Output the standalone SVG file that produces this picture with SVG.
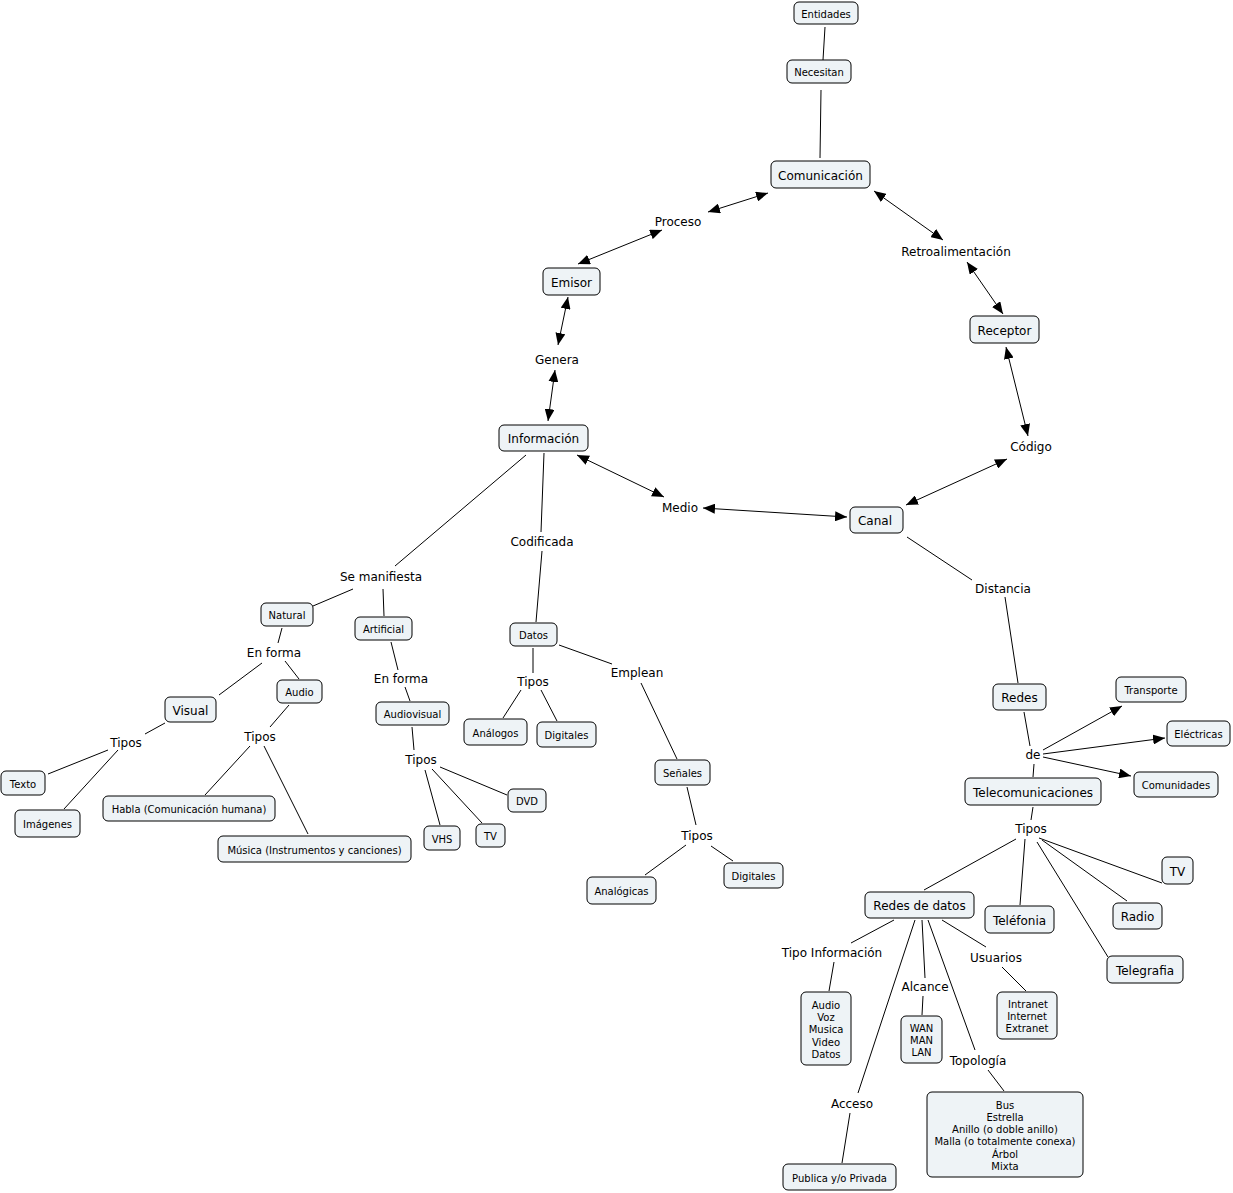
<svg xmlns="http://www.w3.org/2000/svg" width="1233" height="1193" viewBox="0 0 1233 1193">
<style>
.n rect{fill:#eef3f6;stroke:#000;stroke-width:1}
text{font-family:"DejaVu Sans",Verdana,sans-serif;fill:#000;text-anchor:middle;dominant-baseline:central;transform:translateY(1px)}
.s{font-size:10px}
.m{font-size:12px}
.l{font-size:12px}
#conn line{stroke:#000;stroke-width:1}
</style>
<defs>
<marker id="ah" viewBox="0 0 12 10" refX="12" refY="5" markerWidth="12" markerHeight="10" markerUnits="userSpaceOnUse" orient="auto-start-reverse">
<path d="M0,0 L12,5 L0,10 z" fill="#000"/>
</marker>
</defs>
<rect width="1233" height="1193" fill="#fff"/>
<g id="conn">
<line x1="825" y1="27" x2="823" y2="60"/>
<line x1="821" y1="90" x2="820" y2="158"/>
<line x1="708" y1="212" x2="768" y2="193" marker-start="url(#ah)" marker-end="url(#ah)"/>
<line x1="662" y1="230" x2="578" y2="264" marker-start="url(#ah)" marker-end="url(#ah)"/>
<line x1="874" y1="191" x2="943" y2="240" marker-start="url(#ah)" marker-end="url(#ah)"/>
<line x1="967" y1="262" x2="1003" y2="314" marker-start="url(#ah)" marker-end="url(#ah)"/>
<line x1="1006" y1="347" x2="1028" y2="436" marker-start="url(#ah)" marker-end="url(#ah)"/>
<line x1="1007" y1="459" x2="906" y2="505" marker-start="url(#ah)" marker-end="url(#ah)"/>
<line x1="847" y1="517" x2="703" y2="508" marker-start="url(#ah)" marker-end="url(#ah)"/>
<line x1="664" y1="497" x2="577" y2="455" marker-start="url(#ah)" marker-end="url(#ah)"/>
<line x1="568" y1="297" x2="558" y2="345" marker-start="url(#ah)" marker-end="url(#ah)"/>
<line x1="555" y1="370" x2="548" y2="421" marker-start="url(#ah)" marker-end="url(#ah)"/>
<line x1="1043" y1="750" x2="1122" y2="706" marker-end="url(#ah)"/>
<line x1="1043" y1="754" x2="1165" y2="738" marker-end="url(#ah)"/>
<line x1="1043" y1="757" x2="1131" y2="776" marker-end="url(#ah)"/>
<line x1="526" y1="455" x2="395" y2="566"/>
<line x1="544" y1="453" x2="541" y2="532"/>
<line x1="542" y1="551" x2="536" y2="622"/>
<line x1="353" y1="589" x2="313" y2="606"/>
<line x1="383" y1="589" x2="384" y2="616"/>
<line x1="282" y1="628" x2="278" y2="643"/>
<line x1="262" y1="663" x2="219" y2="695"/>
<line x1="285" y1="661" x2="299" y2="679"/>
<line x1="391" y1="642" x2="398" y2="670"/>
<line x1="405" y1="687" x2="410" y2="701"/>
<line x1="533" y1="648" x2="533" y2="673"/>
<line x1="521" y1="690" x2="503" y2="718"/>
<line x1="541" y1="690" x2="557" y2="721"/>
<line x1="559" y1="645" x2="612" y2="664"/>
<line x1="641" y1="683" x2="677" y2="759"/>
<line x1="165" y1="723" x2="145" y2="734"/>
<line x1="108" y1="750" x2="48" y2="774"/>
<line x1="118" y1="750" x2="64" y2="809"/>
<line x1="289" y1="705" x2="270" y2="727"/>
<line x1="250" y1="746" x2="205" y2="795"/>
<line x1="264" y1="746" x2="308" y2="834"/>
<line x1="412" y1="727" x2="414" y2="750"/>
<line x1="440" y1="767" x2="507" y2="795"/>
<line x1="425" y1="770" x2="440" y2="825"/>
<line x1="432" y1="769" x2="482" y2="823"/>
<line x1="687" y1="787" x2="696" y2="825"/>
<line x1="686" y1="845" x2="645" y2="875"/>
<line x1="711" y1="846" x2="733" y2="861"/>
<line x1="907" y1="537" x2="972" y2="580"/>
<line x1="1005" y1="597" x2="1018" y2="683"/>
<line x1="1024" y1="712" x2="1030" y2="746"/>
<line x1="1034" y1="764" x2="1033" y2="777"/>
<line x1="1033" y1="807" x2="1031" y2="820"/>
<line x1="1016" y1="839" x2="924" y2="890"/>
<line x1="1025" y1="839" x2="1020" y2="905"/>
<line x1="1039" y1="838" x2="1162" y2="883"/>
<line x1="1042" y1="840" x2="1127" y2="901"/>
<line x1="1037" y1="842" x2="1108" y2="957"/>
<line x1="894" y1="920" x2="851" y2="943"/>
<line x1="834" y1="962" x2="829" y2="991"/>
<line x1="942" y1="920" x2="986" y2="947"/>
<line x1="1002" y1="967" x2="1026" y2="991"/>
<line x1="922" y1="920" x2="925" y2="978"/>
<line x1="923" y1="996" x2="922" y2="1015"/>
<line x1="928" y1="920" x2="975" y2="1050"/>
<line x1="988" y1="1070" x2="1004" y2="1091"/>
<line x1="915" y1="920" x2="858" y2="1093"/>
<line x1="850" y1="1113" x2="842" y2="1163"/>
</g>

<g id="entidades" class="n"><rect x="794" y="2" width="64" height="22" rx="5"/><text class="s" x="826" y="13">Entidades</text></g>
<g id="necesitan" class="n"><rect x="787" y="60" width="64" height="23" rx="5"/><text class="s" x="819" y="71.5">Necesitan</text></g>
<g id="comunicacion" class="n"><rect x="771" y="161" width="99" height="27" rx="5"/><text class="m" x="820.5" y="174.5">Comunicación</text></g>
<g id="proceso"><text class="l" x="678" y="221">Proceso</text></g>
<g id="retro"><text class="l" x="956" y="251">Retroalimentación</text></g>
<g id="emisor" class="n"><rect x="543" y="268" width="57" height="27" rx="5"/><text class="m" x="571.5" y="281.5">Emisor</text></g>
<g id="receptor" class="n"><rect x="970" y="316" width="69" height="27" rx="5"/><text class="m" x="1004.5" y="329.5">Receptor</text></g>
<g id="genera"><text class="l" x="557" y="359">Genera</text></g>
<g id="informacion" class="n"><rect x="499" y="425" width="89" height="26" rx="5"/><text class="m" x="543.5" y="438">Información</text></g>
<g id="codigo"><text class="l" x="1031" y="446">Código</text></g>
<g id="medio"><text class="l" x="680" y="507">Medio</text></g>
<g id="canal" class="n"><rect x="850" y="507" width="53" height="26" rx="5"/><text class="m" x="875" y="520">Canal</text></g>
<g id="codificada"><text class="l" x="542" y="541">Codificada</text></g>
<g id="semanifiesta"><text class="l" x="381" y="576">Se manifiesta</text></g>
<g id="distancia"><text class="l" x="1003" y="588">Distancia</text></g>
<g id="natural" class="n"><rect x="261" y="603" width="52" height="23" rx="5"/><text class="s" x="287" y="614.5">Natural</text></g>
<g id="artificial" class="n"><rect x="355" y="617" width="57" height="23" rx="5"/><text class="s" x="383.5" y="628.5">Artificial</text></g>
<g id="datos" class="n"><rect x="510" y="623" width="47" height="23" rx="5"/><text class="s" x="533.5" y="634.5">Datos</text></g>
<g id="enforma1"><text class="l" x="274" y="652">En forma</text></g>
<g id="emplean"><text class="l" x="637" y="672">Emplean</text></g>
<g id="enforma2"><text class="l" x="401" y="678">En forma</text></g>
<g id="tiposdatos"><text class="l" x="533" y="681">Tipos</text></g>
<g id="redes" class="n"><rect x="993" y="684" width="53" height="26" rx="5"/><text class="m" x="1019.5" y="697">Redes</text></g>
<g id="transporte" class="n"><rect x="1116" y="677" width="70" height="25" rx="5"/><text class="s" x="1151" y="689.5">Transporte</text></g>
<g id="audio" class="n"><rect x="277" y="680" width="45" height="23" rx="5"/><text class="s" x="299.5" y="691.5">Audio</text></g>
<g id="visual" class="n"><rect x="165" y="697" width="51" height="25" rx="5"/><text class="m" x="190.5" y="709.5">Visual</text></g>
<g id="audiovisual" class="n"><rect x="376" y="702" width="73" height="23" rx="5"/><text class="s" x="412.5" y="713.5">Audiovisual</text></g>
<g id="analogos" class="n"><rect x="464" y="719" width="63" height="26" rx="5"/><text class="s" x="495.5" y="732">Análogos</text></g>
<g id="digitales1" class="n"><rect x="537" y="722" width="59" height="25" rx="5"/><text class="s" x="566.5" y="734.5">Digitales</text></g>
<g id="electricas" class="n"><rect x="1167" y="721" width="63" height="25" rx="5"/><text class="s" x="1198.5" y="733.5">Eléctricas</text></g>
<g id="tiposvisual"><text class="l" x="126" y="742">Tipos</text></g>
<g id="tiposaudio"><text class="l" x="260" y="736">Tipos</text></g>
<g id="de"><text class="l" x="1033" y="754">de</text></g>
<g id="tiposav"><text class="l" x="421" y="759">Tipos</text></g>
<g id="senales" class="n"><rect x="655" y="760" width="55" height="25" rx="5"/><text class="s" x="682.5" y="772.5">Señales</text></g>
<g id="telecom" class="n"><rect x="965" y="778" width="136" height="27" rx="5"/><text class="m" x="1033" y="791.5">Telecomunicaciones</text></g>
<g id="comunidades" class="n"><rect x="1134" y="772" width="84" height="25" rx="5"/><text class="s" x="1176" y="784.5">Comunidades</text></g>
<g id="texto" class="n"><rect x="1" y="771" width="44" height="24" rx="5"/><text class="s" x="23" y="783">Texto</text></g>
<g id="dvd" class="n"><rect x="508" y="789" width="38" height="23" rx="5"/><text class="s" x="527" y="800.5">DVD</text></g>
<g id="habla" class="n"><rect x="103" y="796" width="172" height="25" rx="5"/><text class="s" x="189" y="808.5">Habla (Comunicación humana)</text></g>
<g id="imagenes" class="n"><rect x="15" y="810" width="65" height="27" rx="5"/><text class="s" x="47.5" y="823.5">Imágenes</text></g>
<g id="vhs" class="n"><rect x="424" y="826" width="36" height="24" rx="5"/><text class="s" x="442" y="838">VHS</text></g>
<g id="tvsmall" class="n"><rect x="476" y="824" width="29" height="23" rx="5"/><text class="s" x="490.5" y="835.5">TV</text></g>
<g id="tipossenales"><text class="l" x="697" y="835">Tipos</text></g>
<g id="tipostelecom"><text class="l" x="1031" y="828">Tipos</text></g>
<g id="musica" class="n"><rect x="218" y="836" width="193" height="26" rx="5"/><text class="s" x="314.5" y="849">Música (Instrumentos y canciones)</text></g>
<g id="digitales2" class="n"><rect x="724" y="863" width="59" height="25" rx="5"/><text class="s" x="753.5" y="875.5">Digitales</text></g>
<g id="tvbig" class="n"><rect x="1162" y="857" width="31" height="27" rx="5"/><text class="m" x="1177.5" y="870.5">TV</text></g>
<g id="analogicas" class="n"><rect x="587" y="877" width="69" height="27" rx="5"/><text class="s" x="621.5" y="890.5">Analógicas</text></g>
<g id="redesdatos" class="n"><rect x="865" y="892" width="109" height="26" rx="5"/><text class="m" x="919.5" y="905">Redes de datos</text></g>
<g id="telefonia" class="n"><rect x="985" y="906" width="69" height="27" rx="5"/><text class="m" x="1019.5" y="919.5">Teléfonia</text></g>
<g id="radio" class="n"><rect x="1113" y="903" width="49" height="26" rx="5"/><text class="m" x="1137.5" y="916">Radio</text></g>
<g id="tipoinfo"><text class="l" x="832" y="952">Tipo Información</text></g>
<g id="usuarios"><text class="l" x="996" y="957">Usuarios</text></g>
<g id="telegrafia" class="n"><rect x="1107" y="956" width="76" height="27" rx="5"/><text class="m" x="1145" y="969.5">Telegrafia</text></g>
<g id="alcance"><text class="l" x="925" y="986">Alcance</text></g>
<g id="usuariosbox" class="n"><rect x="997" y="992" width="60" height="47" rx="5"/><text class="s" x="1028" y="1003">Intranet</text><text class="s" x="1027" y="1015">Internet</text><text class="s" x="1027" y="1027">Extranet</text></g>
<g id="tipoinfobox" class="n"><rect x="801" y="992" width="50" height="73" rx="5"/><text class="s" x="826" y="1004">Audio</text><text class="s" x="826" y="1016">Voz</text><text class="s" x="826" y="1028.5">Musica</text><text class="s" x="826" y="1041">Video</text><text class="s" x="826" y="1053">Datos</text></g>
<g id="alcancebox" class="n"><rect x="901" y="1016" width="41" height="47" rx="5"/><text class="s" x="921.5" y="1027">WAN</text><text class="s" x="921.5" y="1039">MAN</text><text class="s" x="921.5" y="1051">LAN</text></g>
<g id="topologia"><text class="l" x="978" y="1060">Topología</text></g>
<g id="topobox" class="n"><rect x="927" y="1092" width="156" height="85" rx="5"/><text class="s" x="1005" y="1104">Bus</text><text class="s" x="1005" y="1116">Estrella</text><text class="s" x="1005" y="1128">Anillo (o doble anillo)</text><text class="s" x="1005" y="1140.5">Malla (o totalmente conexa)</text><text class="s" x="1005" y="1153">Árbol</text><text class="s" x="1005" y="1165">Mixta</text></g>
<g id="acceso"><text class="l" x="852" y="1103">Acceso</text></g>
<g id="publica" class="n"><rect x="783" y="1164" width="113" height="26" rx="5"/><text class="s" x="839.5" y="1177">Publica y/o Privada</text></g>
</svg>
